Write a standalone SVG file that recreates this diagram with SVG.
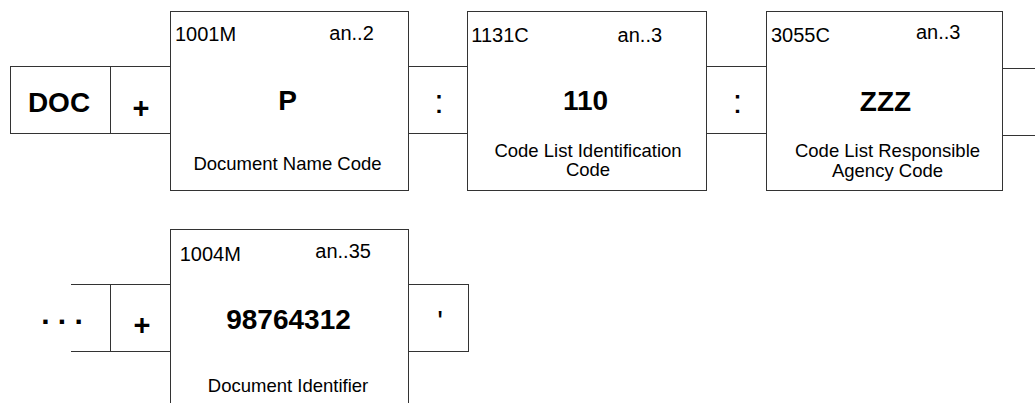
<svg xmlns="http://www.w3.org/2000/svg" width="1035" height="403" viewBox="0 0 1035 403">
<style>
  rect, line { fill: #ffffff; stroke: #333333; stroke-width: 1; }
  line { fill: none; }
  text { font-family: "Liberation Sans", Arial, sans-serif; fill: #000000; }
  .lbl { font-size: 20px; }
  .val { font-size: 28px; font-weight: bold; text-anchor: middle; }
  .desc { font-size: 18.5px; text-anchor: middle; }
  .sep { font-size: 29px; font-weight: bold; text-anchor: middle; }
  .punct { font-size: 34px; text-anchor: middle; }
</style>
<rect x="0" y="0" width="1035" height="403" style="fill:#ffffff;stroke:none"/>

<g id="connectors">
  <line x1="1002" y1="68.5" x2="1035" y2="68.5"/>
  <line x1="1002" y1="135.5" x2="1035" y2="135.5"/>
  <line x1="71" y1="284.5" x2="110.5" y2="284.5"/>
  <line x1="71" y1="351.5" x2="110.5" y2="351.5"/>
</g>

<g id="tag-doc">
  <rect x="10.5" y="66.5" width="100" height="67"/>
  <text class="val" x="59" y="111.5">DOC</text>
</g>

<g id="sep-plus-1">
  <rect x="110.5" y="66.5" width="60" height="67"/>
  <text class="sep" x="141" y="117.5">+</text>
</g>

<g id="el-1001">
  <rect x="170.5" y="11.5" width="238" height="179"/>
  <text class="lbl" x="175" y="41">1001M</text>
  <text class="lbl" x="329.3" y="40">an..2</text>
  <text class="val" x="287.5" y="110">P</text>
  <text class="desc" x="287.5" y="170">Document Name Code</text>
</g>

<g id="sep-colon-1">
  <rect x="408.5" y="66.5" width="59" height="67"/>
  <text class="punct" x="439" y="113">:</text>
</g>

<g id="el-1131">
  <rect x="467.5" y="11.5" width="239" height="179"/>
  <text class="lbl" x="471.3" y="41.5">1131C</text>
  <text class="lbl" x="617.6" y="41.5">an..3</text>
  <text class="val" x="585.5" y="110">110</text>
  <text class="desc" x="588" y="156.7">Code List Identification</text>
  <text class="desc" x="588" y="176">Code</text>
</g>

<g id="sep-colon-2">
  <rect x="706.5" y="66.5" width="60" height="67"/>
  <text class="punct" x="737.5" y="113">:</text>
</g>

<g id="el-3055">
  <rect x="766.5" y="11.5" width="236" height="179"/>
  <text class="lbl" x="771" y="41.5">3055C</text>
  <text class="lbl" x="916" y="39">an..3</text>
  <text class="val" x="885.5" y="111">ZZZ</text>
  <text class="desc" x="887.5" y="156.7">Code List Responsible</text>
  <text class="desc" x="887.5" y="176.5">Agency Code</text>
</g>

<g id="ellipsis">
  <line x1="110.5" y1="284.5" x2="110.5" y2="351.5"/>
  <text class="sep" x="62" y="324" style="font-size:30px">. . .</text>
</g>

<g id="sep-plus-2">
  <rect x="110.5" y="284.5" width="60" height="67"/>
  <text class="sep" x="142" y="335">+</text>
</g>

<g id="el-1004">
  <rect x="170.5" y="229.5" width="238" height="185"/>
  <text class="lbl" x="179.7" y="260.5">1004M</text>
  <text class="lbl" x="315.3" y="258">an..35</text>
  <text class="val" x="288.5" y="328.5">98764312</text>
  <text class="desc" x="288" y="392">Document Identifier</text>
</g>

<g id="terminator">
  <rect x="408.5" y="284.5" width="60" height="67"/>
  <text class="punct" x="440" y="331" style="font-size:30px">'</text>
</g>
</svg>
